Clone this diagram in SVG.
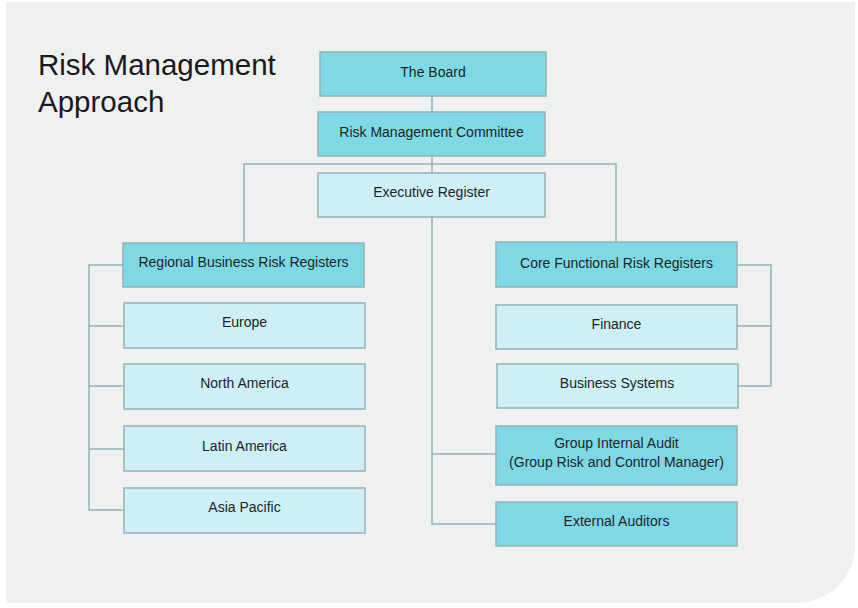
<svg xmlns="http://www.w3.org/2000/svg" width="858" height="608" viewBox="0 0 858 608">
<style>
.dark{fill:#7ed9e4;stroke:#95b3b6;stroke-width:1.5}
.light{fill:#cdeff5;stroke:#95b3b6;stroke-width:1.5}
.lbl{font-family:"Liberation Sans",Arial,sans-serif;font-size:14px;fill:#1c2528;text-anchor:middle}
.ln{fill:none;stroke:#92b4b7;stroke-width:1.5}
</style>
<rect width="858" height="608" fill="#ffffff"/>
<path d="M6 2H855V545A58 58 0 0 1 797 603H6Z" fill="#eff0f0"/>
<text x="38" y="75" font-family="Liberation Sans,Arial,sans-serif" font-size="29.5" fill="#1a1a1a">Risk Management</text>
<text x="38" y="112" font-family="Liberation Sans,Arial,sans-serif" font-size="29.5" fill="#1a1a1a">Approach</text>
<g id="connectors">
<path class="ln" d="M432 96V173M432 217V524H496M432 454H496"/>
<path class="ln" d="M244 242V164H616V242"/>
<path class="ln" d="M123 265H89V510H124M89 326H124M89 386H124M89 449H124"/>
<path class="ln" d="M737 265H771V386H737M771 326H737"/>
</g>
<g id="board"><rect class="dark" x="320" y="52" width="226" height="44"/><text class="lbl" x="433" y="77">The Board</text></g>
<g id="rmc"><rect class="dark" x="318" y="112" width="227" height="44"/><text class="lbl" x="431.5" y="137">Risk Management Committee</text></g>
<g id="exec"><rect class="light" x="318" y="173" width="227" height="44"/><text class="lbl" x="431.5" y="197">Executive Register</text></g>
<g id="regional"><rect class="dark" x="123" y="243" width="241" height="44"/><text class="lbl" x="243.5" y="267">Regional Business Risk Registers</text></g>
<g id="europe"><rect class="light" x="124" y="303" width="241" height="45"/><text class="lbl" x="244.5" y="327">Europe</text></g>
<g id="northamerica"><rect class="light" x="124" y="364" width="241" height="45"/><text class="lbl" x="244.5" y="388">North America</text></g>
<g id="latinamerica"><rect class="light" x="124" y="426" width="241" height="45"/><text class="lbl" x="244.5" y="451">Latin America</text></g>
<g id="asiapacific"><rect class="light" x="124" y="488" width="241" height="45"/><text class="lbl" x="244.5" y="512">Asia Pacific</text></g>
<g id="core"><rect class="dark" x="496" y="242" width="241" height="45"/><text class="lbl" x="616.5" y="268">Core Functional Risk Registers</text></g>
<g id="finance"><rect class="light" x="496" y="305" width="241" height="44"/><text class="lbl" x="616.5" y="329">Finance</text></g>
<g id="bizsys"><rect class="light" x="497" y="364" width="241" height="44"/><text class="lbl" x="617" y="388">Business Systems</text></g>
<g id="gia"><rect class="dark" x="496" y="426" width="241" height="59"/><text class="lbl" x="616.5" y="448">Group Internal Audit</text><text class="lbl" x="616.5" y="467">(Group Risk and Control Manager)</text></g>
<g id="external"><rect class="dark" x="496" y="502" width="241" height="44"/><text class="lbl" x="616.5" y="526">External Auditors</text></g>
</svg>
